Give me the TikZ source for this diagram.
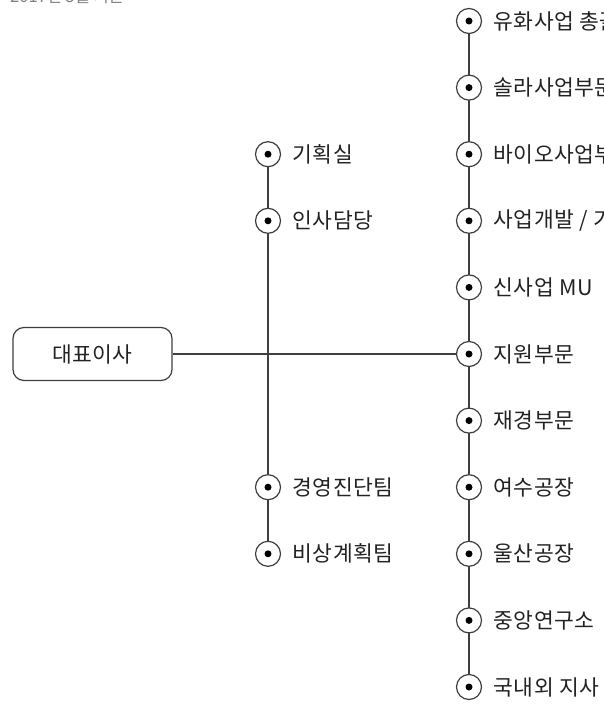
\documentclass[tikz,border=0pt]{standalone}
\usepackage{fontspec}
\newfontfamily\kr[LetterSpace=2]{Noto Sans CJK KR}
\newfontfamily\krnote{Noto Sans CJK KR}
\definecolor{linec}{HTML}{3F3F3F}
\definecolor{txtc}{HTML}{222222}
\definecolor{notec}{HTML}{808080}
\begin{document}
\begin{tikzpicture}[x=1pt,y=-1pt,
  dotc/.style={circle, draw=linec, line width=1.2pt, fill=white, minimum size=25pt, inner sep=0pt,
    path picture={\fill[black] (path picture bounding box.center) circle (3.5pt);}},
  lab/.style={anchor=west, inner sep=0pt, text=txtc, font=\kr\fontsize{21.5}{23}\selectfont},
  conn/.style={draw=linec, line width=1.3pt},
  ceo/.style={draw=linec, line width=1.2pt, rounded corners=11pt, minimum width=159pt, minimum height=53pt, inner sep=0pt, text=txtc, font=\kr\fontsize{21.5}{23}\selectfont}]
\useasboundingbox (0,0) rectangle (603,707);
\clip (0,0) rectangle (603,707);
% note (cut off at top)
\node[anchor=base west, inner sep=0pt, text=notec, font=\krnote\fontsize{16.5}{16.5}\selectfont] (note) at (10,2.5) {2017년 5월 기준};
% CEO box
\node[ceo] (ceo) at (92.5,354) {대표이사};
% right column
\foreach \i in {1,...,11}{
  \coordinate (rc\i) at (469,{21+(\i-1)*66.6});
}
% left column
\coordinate (lc1) at (268,{21+2*66.6});
\coordinate (lc2) at (268,{21+3*66.6});
\coordinate (lc3) at (268,{21+7*66.6});
\coordinate (lc4) at (268,{21+8*66.6});
% connectors
\draw[conn] (rc1) -- (rc11);
\draw[conn] (lc1) -- (lc4);
\draw[conn] (ceo.east) -- (ceo.east -| rc6);
% circles and labels
\foreach \i/\t in {1/{유화사업 총괄},2/{솔라사업부문},3/{바이오사업부문},4/{사업개발 / 기획},5/{신사업 MU},6/{지원부문},7/{재경부문},8/{여수공장},9/{울산공장},10/{중앙연구소},11/{국내외 지사}}{
  \node[dotc] (r\i) at (rc\i) {};
  \node[lab] (rt\i) at ([xshift=11.5pt]r\i.east) {\t};
}
\foreach \i/\t in {1/기획실,2/인사담당,3/경영진단팀,4/비상계획팀}{
  \node[dotc] (l\i) at (lc\i) {};
  \node[lab] (lt\i) at ([xshift=11.5pt]l\i.east) {\t};
}
\end{tikzpicture}
\end{document}
